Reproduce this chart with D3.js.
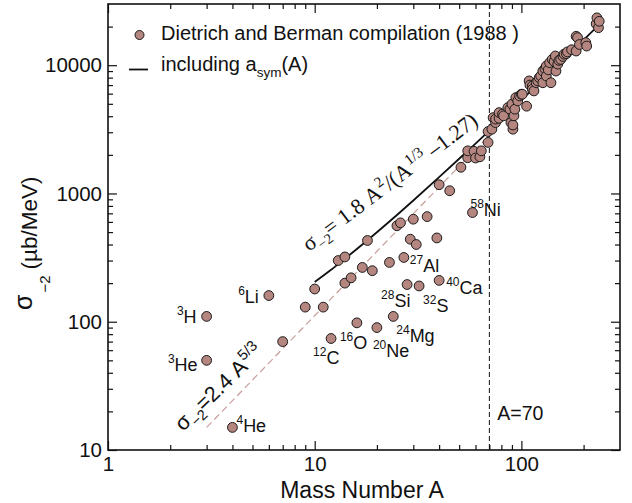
<!DOCTYPE html>
<html>
<head>
<meta charset="utf-8">
<script src="https://cdn.jsdelivr.net/npm/d3@7"></script>
<style>
  body { margin: 0; background: #fff; }
  text { font-family: "Liberation Sans", Arial, Helvetica, sans-serif; fill: #111; }
</style>
</head>
<body>
<div id="chart"></div>
<script>
// Dietrich and Berman compilation: mass number A, sigma_-2 (µb/MeV)
const massNumbers = [7, 9, 10, 11, 13, 14, 14, 15, 17, 18, 19, 23, 25, 26, 29, 30, 31, 35, 39, 40,
  45, 51, 55, 55, 59, 60, 63, 64, 69, 69, 72, 73, 75, 75, 78, 78, 81, 82, 86, 88,
  89, 90, 91, 91, 92, 93, 94, 96, 98, 100, 101, 106, 109, 110, 113, 113, 115, 118, 120, 122,
  124, 127, 127, 130, 132, 132, 135, 137, 139, 141, 144, 146, 147, 150, 152, 155, 159, 161, 165, 167,
  175, 184, 184, 187, 191, 205, 207, 230, 232, 236, 238];
const sigmaValues = [70, 130, 180, 130, 300, 320, 200, 220, 265, 430, 250, 290, 560, 590, 440, 630, 400, 660, 450, 1170,
  1050, 1600, 1900, 2150, 2130, 1890, 1930, 2150, 2500, 3040, 3170, 3900, 3570, 3800, 3860, 4270, 4150, 4030, 4670, 4540,
  3570, 4970, 3170, 3420, 4030, 4540, 5590, 5270, 5760, 5940, 5940, 4790, 7540, 7000, 6890, 6490, 6300, 7300, 7540, 8000,
  8240, 9010, 7300, 9400, 9860, 8240, 9200, 10460, 7300, 11100, 10700, 11800, 9000, 10200, 10900, 11100, 11700, 12200, 12300, 12700,
  13200, 12900, 16800, 16400, 14500, 15000, 14100, 21000, 23400, 19600, 22000];

// labelled light nuclei
const nucleusMass = [3, 3, 4, 6, 12, 16, 20, 24, 27, 28, 32, 40, 58];
const nucleusSigma = [110, 50, 15, 160, 74, 98, 90, 110, 317, 195, 190, 210, 710];
const nucleusName = ["H", "He", "He", "Li", "C", "O", "Ne", "Mg", "Al", "Si", "S", "Ca", "Ni"];

// solid curve (including a_sym(A)) and dashed 2.4 A^5/3 line
const curveMass = [10, 12, 14, 17, 20, 25, 30, 40, 50, 60, 70, 85, 100, 120, 150, 180, 210, 238];
const curveSigma = [204, 254, 310, 400, 499, 680, 882, 1340, 1864, 2450, 3093, 4159, 5338, 7078, 10017, 13327, 16983, 20694];
const dashMass = [3, 70];
const dashSigma = [15, 2850];

const xTicks = [1, 10, 100];
const yTicks = [10, 100, 1000, 10000];
const xMinor = [2, 3, 4, 5, 6, 7, 8, 9, 20, 30, 40, 50, 60, 70, 80, 90, 200];
const yMinor = [20, 30, 40, 50, 60, 70, 80, 90, 200, 300, 400, 500, 600, 700, 800, 900,
  2000, 3000, 4000, 5000, 6000, 7000, 8000, 9000, 20000];

// label placement next to each labelled nucleus (pixels from the point)
const labelLayout = [
  {dx: -10, dy: 7, anchor: "end"}, {dx: -9, dy: 11, anchor: "end"}, {dx: 4, dy: 5, anchor: "start"},
  {dx: -10, dy: 7, anchor: "end"}, {dx: -18, dy: 25, anchor: "start"}, {dx: -17, dy: 26, anchor: "start"},
  {dx: -4, dy: 29, anchor: "start"}, {dx: 3, dy: 26, anchor: "start"}, {dx: 6, dy: 15, anchor: "start"},
  {dx: -26, dy: 22, anchor: "start"}, {dx: 4, dy: 26, anchor: "start"}, {dx: 7, dy: 14, anchor: "start"},
  {dx: -2, dy: 3, anchor: "start"}
];

const W = 632, H = 503;
const mLeft = 108, mRight = 620, mTop = 4, mBottom = 450;
const pointFill = "#b5867f";
const pointR = 4.9;

const svg = d3.select("#chart").append("svg")
  .attr("width", W).attr("height", H);

const x = d3.scaleLog().domain([1, 300]).range([mLeft, mRight]);
const y = d3.scaleLog().domain([10, 30000]).range([mBottom, mTop]);

// axes, ticks pointing inwards on all four sides
const fmt = d => d;
svg.append("g").attr("class", "ax").attr("transform", `translate(0,${mBottom})`)
  .call(d3.axisBottom(x).tickValues(xTicks).tickFormat(fmt).tickSize(-9).tickPadding(6));
svg.append("g").attr("class", "ax").attr("transform", `translate(0,${mBottom})`)
  .call(d3.axisBottom(x).tickValues(xMinor).tickFormat("").tickSize(-5));
svg.append("g").attr("class", "ax").attr("transform", `translate(0,${mTop})`)
  .call(d3.axisTop(x).tickValues(xTicks).tickFormat("").tickSize(-9));
svg.append("g").attr("class", "ax").attr("transform", `translate(0,${mTop})`)
  .call(d3.axisTop(x).tickValues(xMinor).tickFormat("").tickSize(-5));
svg.append("g").attr("class", "ax").attr("transform", `translate(${mLeft},0)`)
  .call(d3.axisLeft(y).tickValues(yTicks).tickFormat(fmt).tickSize(-9).tickPadding(6));
svg.append("g").attr("class", "ax").attr("transform", `translate(${mLeft},0)`)
  .call(d3.axisLeft(y).tickValues(yMinor).tickFormat("").tickSize(-5));
svg.append("g").attr("class", "ax").attr("transform", `translate(${mRight},0)`)
  .call(d3.axisRight(y).tickValues(yTicks).tickFormat("").tickSize(-9));
svg.append("g").attr("class", "ax").attr("transform", `translate(${mRight},0)`)
  .call(d3.axisRight(y).tickValues(yMinor).tickFormat("").tickSize(-5));

svg.selectAll(".ax .domain").remove();
svg.selectAll(".ax line").attr("stroke", "#111").attr("stroke-width", 1.2);
svg.selectAll(".ax text").style("font-size", "20.5px").attr("fill", "#111")
  .style("font-family", "'Liberation Sans', Arial, sans-serif");

svg.append("rect")
  .attr("x", mLeft).attr("y", mTop)
  .attr("width", mRight - mLeft).attr("height", mBottom - mTop)
  .attr("fill", "none").attr("stroke", "#111").attr("stroke-width", 1.6);

// A = 70 marker
svg.append("line")
  .attr("x1", x(70)).attr("x2", x(70)).attr("y1", mTop).attr("y2", mBottom)
  .attr("stroke", "#111").attr("stroke-width", 1).attr("stroke-dasharray", "5,3");
svg.append("text").attr("x", x(70) + 8).attr("y", 420)
  .style("font-size", "19.5px").text("A=70");

// dashed 2.4 A^5/3
const line = d3.line().x(d => x(d[0])).y(d => y(d[1]));
svg.append("path")
  .datum(d3.zip(dashMass, dashSigma))
  .attr("d", line)
  .attr("fill", "none").attr("stroke", "#c79f9b").attr("stroke-width", 1.2)
  .attr("stroke-dasharray", "7,4");

// solid curve
svg.append("path")
  .datum(d3.zip(curveMass, curveSigma))
  .attr("d", line.curve(d3.curveMonotoneX))
  .attr("fill", "none").attr("stroke", "#111").attr("stroke-width", 1.8);

// data points
svg.append("g").selectAll("circle")
  .data(d3.zip(massNumbers, sigmaValues).concat(d3.zip(nucleusMass, nucleusSigma)))
  .enter().append("circle")
    .attr("cx", d => x(d[0]))
    .attr("cy", d => y(d[1]))
    .attr("r", pointR)
    .attr("fill", pointFill)
    .attr("stroke", "#1a1a1a").attr("stroke-width", 1);

// nucleus labels with superscript mass number
const labels = svg.append("g").selectAll("text")
  .data(nucleusName.map((n, i) => ({name: n, a: nucleusMass[i], s: nucleusSigma[i], lay: labelLayout[i]})))
  .enter().append("text")
    .attr("x", d => x(d.a) + d.lay.dx)
    .attr("y", d => y(d.s) + d.lay.dy)
    .attr("text-anchor", d => d.lay.anchor);
labels.append("tspan").style("font-size", "12px").attr("dy", -8).text(d => d.a);
labels.append("tspan").style("font-size", "18px").attr("dy", 8).text(d => d.name);

// formula along the solid curve
const f1 = svg.append("text")
  .attr("transform", "translate(309,252) rotate(-37)")
  .style("font-family", "'Liberation Serif', 'Times New Roman', serif")
  .style("font-size", "22px");
f1.append("tspan").text("σ");
f1.append("tspan").style("font-size", "14.5px").attr("dy", 6).text("−2");
f1.append("tspan").attr("dy", -6).attr("dx", -1).text("= 1.8 A");
f1.append("tspan").style("font-size", "15px").attr("dy", -9).attr("dx", 1).text("2");
f1.append("tspan").attr("dy", 9).text("/(A");
f1.append("tspan").style("font-size", "15px").attr("dy", -9).attr("dx", 1).text("1/3");
f1.append("tspan").attr("dy", 9).text(" –1.27)");

// formula along the dashed line
const f2 = svg.append("text")
  .attr("transform", "translate(183,432) rotate(-44)")
  .style("font-size", "21.5px");
f2.append("tspan").text("σ");
f2.append("tspan").style("font-size", "14.5px").attr("dy", 6).text("−2");
f2.append("tspan").attr("dy", -6).attr("dx", -1).text("=2.4 A");
f2.append("tspan").style("font-size", "15px").attr("dy", -9).attr("dx", 1).text("5/3");

// legend
svg.append("circle").attr("cx", 139.5).attr("cy", 35).attr("r", pointR - 0.4)
  .attr("fill", pointFill).attr("stroke", "#1a1a1a").attr("stroke-width", 1);
svg.append("text").attr("x", 161).attr("y", 40).style("font-size", "20px")
  .text("Dietrich and Berman compilation (1988 )");
svg.append("line").attr("x1", 129).attr("x2", 148).attr("y1", 69.5).attr("y2", 69.5)
  .attr("stroke", "#111").attr("stroke-width", 1.8);
const leg2 = svg.append("text").attr("x", 161).attr("y", 71).style("font-size", "20px");
leg2.append("tspan").text("including a");
leg2.append("tspan").style("font-size", "13.5px").attr("dy", 6).text("sym");
leg2.append("tspan").attr("dy", -6).text("(A)");

// axis titles
svg.append("text").attr("x", 362).attr("y", 498).attr("text-anchor", "middle")
  .style("font-size", "23px").text("Mass Number A");
const yt = svg.append("text").attr("transform", "translate(37,310) rotate(-90)")
  .style("font-size", "22.5px");
yt.append("tspan").style("font-size", "25px").attr("dy", -5).text("σ");
yt.append("tspan").style("font-size", "15px").attr("dy", 18).attr("dx", 2).text("−2");
yt.append("tspan").attr("dy", -13).attr("dx", 6).text("(µb/MeV)");
</script>
</body>
</html>
